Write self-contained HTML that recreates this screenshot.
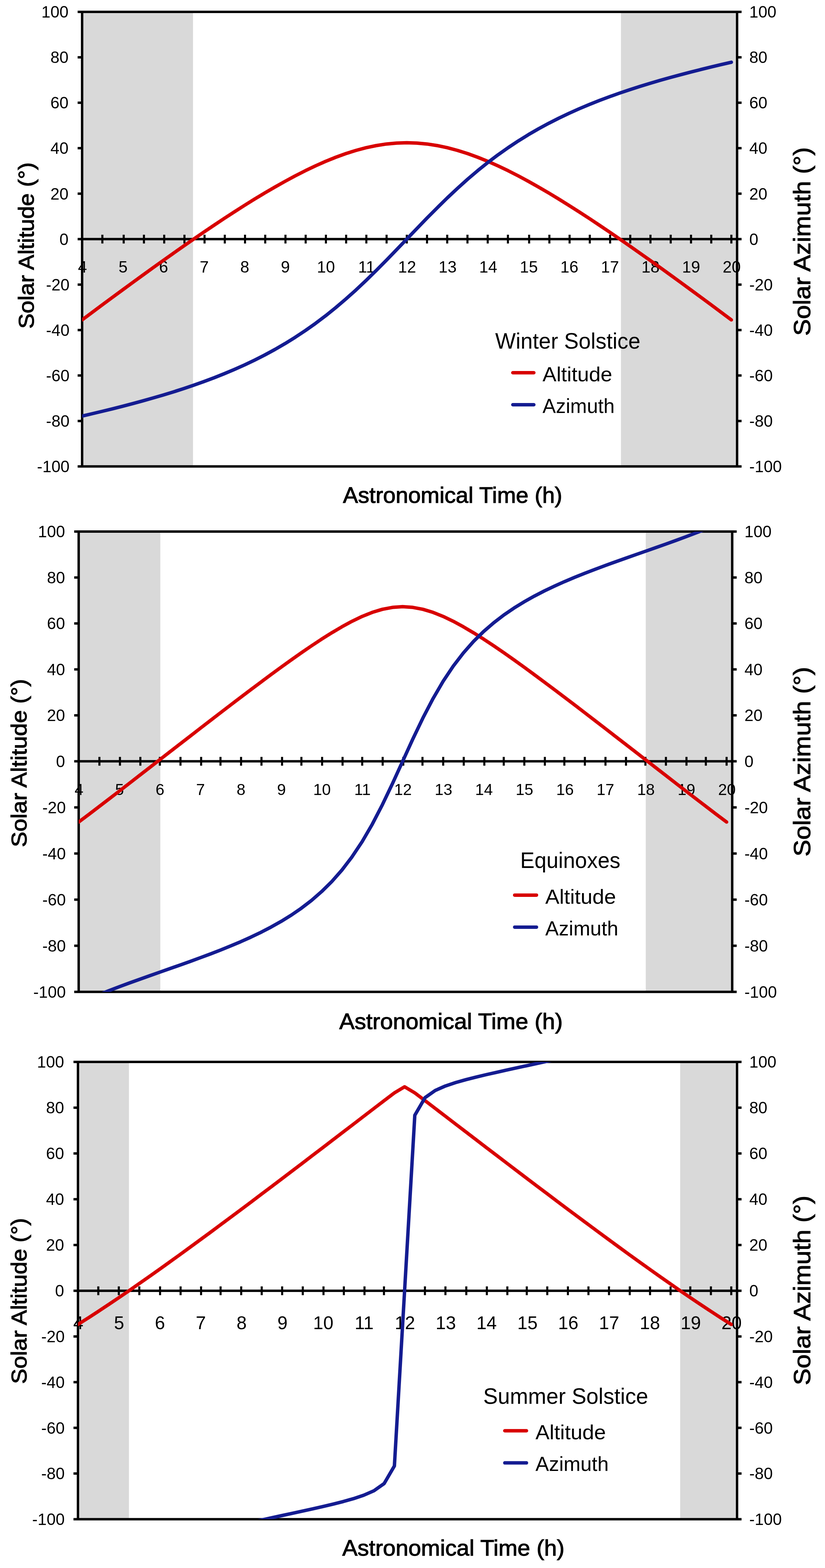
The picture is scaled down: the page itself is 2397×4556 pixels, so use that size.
<!DOCTYPE html><html><head><meta charset="utf-8"><title>Solar Altitude and Azimuth</title><style>html,body{margin:0;padding:0;background:#fff;}svg{display:block;}</style></head><body>
<svg width="2397" height="4556" viewBox="0 0 2397 4556" font-family="'Liberation Sans', Arial, Helvetica, sans-serif">
<rect width="2397" height="4556" fill="#fff"/>
<g><rect x="238.6" y="34.4" width="322.2" height="1320.9" fill="#d9d9d9"/>
<rect x="1804.2" y="34.4" width="337.4" height="1320.9" fill="#d9d9d9"/>
<path d="M225.6 34.4H2154.6M225.6 1355.3H2154.6M238.6 30.9V1358.8M2141.6 30.9V1358.8M225.6 694.8H2154.6M225.6 1223.2H238.6M2141.6 1223.2H2154.6M225.6 1091.1H238.6M2141.6 1091.1H2154.6M225.6 959.0H238.6M2141.6 959.0H2154.6M225.6 826.9H238.6M2141.6 826.9H2154.6M225.6 562.7H238.6M2141.6 562.7H2154.6M225.6 430.6H238.6M2141.6 430.6H2154.6M225.6 298.6H238.6M2141.6 298.6H2154.6M225.6 166.5H238.6M2141.6 166.5H2154.6" stroke="#000" stroke-width="7.0" fill="none"/>
<path d="M297.4 682.0V707.6M359.4 682.0V707.6M418.2 682.0V707.6M477.1 682.0V707.6M535.9 682.0V707.6M594.3 682.0V707.6M653.1 682.0V707.6M711.9 682.0V707.6M770.6 682.0V707.6M829.4 682.0V707.6M888.1 682.0V707.6M946.9 682.0V707.6M1005.7 682.0V707.6M1064.4 682.0V707.6M1123.2 682.0V707.6M1181.9 682.0V707.6M1240.7 682.0V707.6M1299.4 682.0V707.6M1358.2 682.0V707.6M1417.0 682.0V707.6M1475.7 682.0V707.6M1537.4 682.0V707.6M1596.2 682.0V707.6M1654.9 682.0V707.6M1713.6 682.0V707.6M1772.7 682.0V707.6M1831.2 682.0V707.6M1889.9 682.0V707.6M1948.7 682.0V707.6M2007.7 682.0V707.6M2066.5 682.0V707.6M2124.9 682.0V707.6" stroke="#000" stroke-width="6" fill="none"/>
<g font-size="47.2"><text x="202.0" y="1372.1" text-anchor="end">-100</text><text x="2177.1" y="1372.1">-100</text><text x="202.0" y="1240.0" text-anchor="end">-80</text><text x="2177.1" y="1240.0">-80</text><text x="202.0" y="1107.9" text-anchor="end">-60</text><text x="2177.1" y="1107.9">-60</text><text x="202.0" y="975.8" text-anchor="end">-40</text><text x="2177.1" y="975.8">-40</text><text x="202.0" y="843.7" text-anchor="end">-20</text><text x="2177.1" y="843.7">-20</text><text x="199.1" y="711.6" text-anchor="end">0</text><text x="2177.1" y="711.6">0</text><text x="199.1" y="579.5" text-anchor="end">20</text><text x="2177.1" y="579.5">20</text><text x="199.1" y="447.4" text-anchor="end">40</text><text x="2177.1" y="447.4">40</text><text x="199.1" y="315.3" text-anchor="end">60</text><text x="2177.1" y="315.3">60</text><text x="199.1" y="183.2" text-anchor="end">80</text><text x="2177.1" y="183.2">80</text><text x="199.1" y="51.2" text-anchor="end">100</text><text x="2177.1" y="51.2">100</text></g>
<g font-size="47.2"><text x="239.6" y="792.0" text-anchor="middle">4</text><text x="357.5" y="792.0" text-anchor="middle">5</text><text x="475.4" y="792.0" text-anchor="middle">6</text><text x="593.3" y="792.0" text-anchor="middle">7</text><text x="711.2" y="792.0" text-anchor="middle">8</text><text x="829.1" y="792.0" text-anchor="middle">9</text><text x="947.0" y="792.0" text-anchor="middle">10</text><text x="1064.9" y="792.0" text-anchor="middle">11</text><text x="1182.8" y="792.0" text-anchor="middle">12</text><text x="1300.6" y="792.0" text-anchor="middle">13</text><text x="1418.5" y="792.0" text-anchor="middle">14</text><text x="1536.4" y="792.0" text-anchor="middle">15</text><text x="1654.3" y="792.0" text-anchor="middle">16</text><text x="1772.2" y="792.0" text-anchor="middle">17</text><text x="1890.1" y="792.0" text-anchor="middle">18</text><text x="2008.0" y="792.0" text-anchor="middle">19</text><text x="2125.9" y="792.0" text-anchor="middle">20</text></g>
<clipPath id="clip0"><rect x="238.6" y="34.4" width="1903.0" height="1320.9"/></clipPath>
<g clip-path="url(#clip0)" fill="none" stroke-width="10" stroke-linejoin="round" stroke-linecap="round"><polyline points="238.6,929.6 268.1,907.5 297.5,885.6 327.0,863.8 356.5,842.1 386.0,820.5 415.4,799.1 444.9,777.8 474.4,756.7 503.9,735.8 533.3,715.1 562.8,694.6 592.3,674.4 621.8,654.5 651.2,634.9 680.7,615.7 710.2,596.9 739.6,578.6 769.1,560.8 798.6,543.6 828.1,527.0 857.5,511.1 887.0,496.1 916.5,482.0 946.0,468.9 975.4,457.0 1004.9,446.3 1034.4,437.0 1063.9,429.2 1093.3,423.0 1122.8,418.4 1152.3,415.7 1181.8,414.8 1211.2,415.7 1240.7,418.4 1270.2,423.0 1299.6,429.2 1329.1,437.0 1358.6,446.3 1388.1,457.0 1417.5,468.9 1447.0,482.0 1476.5,496.1 1506.0,511.1 1535.4,527.0 1564.9,543.6 1594.4,560.8 1623.9,578.6 1653.3,596.9 1682.8,615.7 1712.3,634.9 1741.7,654.5 1771.2,674.4 1800.7,694.6 1830.2,715.1 1859.6,735.8 1889.1,756.7 1918.6,777.8 1948.1,799.1 1977.5,820.5 2007.0,842.1 2036.5,863.8 2066.0,885.6 2095.4,907.5 2124.9,929.6" stroke="#d80000"/><polyline points="238.6,1208.9 268.1,1202.0 297.5,1195.0 327.0,1187.8 356.5,1180.3 386.0,1172.6 415.4,1164.6 444.9,1156.3 474.4,1147.7 503.9,1138.7 533.3,1129.2 562.8,1119.3 592.3,1108.8 621.8,1097.7 651.2,1086.0 680.7,1073.6 710.2,1060.5 739.6,1046.4 769.1,1031.5 798.6,1015.5 828.1,998.4 857.5,980.2 887.0,960.7 916.5,939.8 946.0,917.6 975.4,893.9 1004.9,868.8 1034.4,842.4 1063.9,814.6 1093.3,785.7 1122.8,756.0 1152.3,725.5 1181.8,694.8 1211.2,664.1 1240.7,633.6 1270.2,603.9 1299.6,575.0 1329.1,547.3 1358.6,520.8 1388.1,495.7 1417.5,472.1 1447.0,449.8 1476.5,429.0 1506.0,409.4 1535.4,391.2 1564.9,374.1 1594.4,358.2 1623.9,343.2 1653.3,329.2 1682.8,316.0 1712.3,303.6 1741.7,291.9 1771.2,280.9 1800.7,270.4 1830.2,260.5 1859.6,251.0 1889.1,242.0 1918.6,233.3 1948.1,225.0 1977.5,217.1 2007.0,209.4 2036.5,201.9 2066.0,194.7 2095.4,187.7 2124.9,180.8" stroke="#141c91"/></g>
<text x="1438.7" y="1013.0" font-size="64" textLength="421.9" lengthAdjust="spacingAndGlyphs">Winter Solstice</text>
<path d="M1490.0 1083.0H1551.0" stroke="#d80000" stroke-width="10" stroke-linecap="round"/>
<path d="M1490.0 1176.0H1551.0" stroke="#141c91" stroke-width="10" stroke-linecap="round"/>
<text x="1576.3" y="1108.1" font-size="59.4" textLength="202.6" lengthAdjust="spacingAndGlyphs">Altitude</text>
<text x="1576.3" y="1200.2" font-size="59.4" textLength="209.5" lengthAdjust="spacingAndGlyphs">Azimuth</text>
<text x="996.6" y="1461.0" font-size="64.5" stroke="#000" stroke-width="1.5" textLength="637.1" lengthAdjust="spacingAndGlyphs">Astronomical Time (h)</text>
<text transform="translate(98.3 955.2) rotate(-90)" x="0" y="0" font-size="62.2" stroke="#000" stroke-width="1.5" textLength="483.4" lengthAdjust="spacingAndGlyphs">Solar Altitude (°)</text>
<text transform="translate(2354.2 975.7) rotate(-90)" x="0" y="0" font-size="69" stroke="#000" stroke-width="1.5" textLength="547.9" lengthAdjust="spacingAndGlyphs">Solar Azimuth (°)</text></g>
<g><rect x="228.6" y="1544.6" width="237.2" height="1337.5" fill="#d9d9d9"/>
<rect x="1876.2" y="1544.6" width="251.2" height="1337.5" fill="#d9d9d9"/>
<path d="M215.6 1544.6H2140.4M215.6 2882.1H2140.4M228.6 1541.1V2885.6M2127.4 1541.1V2885.6M215.6 2212.0H2140.4M215.6 2748.1H228.6M2127.4 2748.1H2140.4M215.6 2614.1H228.6M2127.4 2614.1H2140.4M215.6 2480.0H228.6M2127.4 2480.0H2140.4M215.6 2346.0H228.6M2127.4 2346.0H2140.4M215.6 2078.5H228.6M2127.4 2078.5H2140.4M215.6 1945.0H228.6M2127.4 1945.0H2140.4M215.6 1811.6H228.6M2127.4 1811.6H2140.4M215.6 1678.1H228.6M2127.4 1678.1H2140.4" stroke="#000" stroke-width="7.0" fill="none"/>
<path d="M288.8 2199.2V2224.8M348.5 2199.2V2224.8M407.8 2199.2V2224.8M464.5 2199.2V2224.8M524.4 2199.2V2224.8M584.4 2199.2V2224.8M640.6 2199.2V2224.8M700.4 2199.2V2224.8M759.7 2199.2V2224.8M819.5 2199.2V2224.8M875.7 2199.2V2224.8M935.9 2199.2V2224.8M995.3 2199.2V2224.8M1052.4 2199.2V2224.8M1111.8 2199.2V2224.8M1171.7 2199.2V2224.8M1227.5 2199.2V2224.8M1287.7 2199.2V2224.8M1347.4 2199.2V2224.8M1407.2 2199.2V2224.8M1463.6 2199.2V2224.8M1523.4 2199.2V2224.8M1583.0 2199.2V2224.8M1639.7 2199.2V2224.8M1699.3 2199.2V2224.8M1759.2 2199.2V2224.8M1818.8 2199.2V2224.8M1875.2 2199.2V2224.8M1934.8 2199.2V2224.8M1994.5 2199.2V2224.8M2050.8 2199.2V2224.8M2111.1 2199.2V2224.8" stroke="#000" stroke-width="6" fill="none"/>
<g font-size="47.2"><text x="191.2" y="2898.9" text-anchor="end">-100</text><text x="2162.9" y="2898.9">-100</text><text x="191.2" y="2764.8" text-anchor="end">-80</text><text x="2162.9" y="2764.8">-80</text><text x="191.2" y="2630.8" text-anchor="end">-60</text><text x="2162.9" y="2630.8">-60</text><text x="191.2" y="2496.8" text-anchor="end">-40</text><text x="2162.9" y="2496.8">-40</text><text x="191.2" y="2362.8" text-anchor="end">-20</text><text x="2162.9" y="2362.8">-20</text><text x="189.1" y="2228.8" text-anchor="end">0</text><text x="2162.9" y="2228.8">0</text><text x="189.1" y="2095.3" text-anchor="end">20</text><text x="2162.9" y="2095.3">20</text><text x="189.1" y="1961.8" text-anchor="end">40</text><text x="2162.9" y="1961.8">40</text><text x="189.1" y="1828.3" text-anchor="end">60</text><text x="2162.9" y="1828.3">60</text><text x="189.1" y="1694.8" text-anchor="end">80</text><text x="2162.9" y="1694.8">80</text><text x="189.1" y="1561.4" text-anchor="end">100</text><text x="2162.9" y="1561.4">100</text></g>
<g font-size="46.0"><text x="229.6" y="2309.6" text-anchor="middle">4</text><text x="347.3" y="2309.6" text-anchor="middle">5</text><text x="464.9" y="2309.6" text-anchor="middle">6</text><text x="582.6" y="2309.6" text-anchor="middle">7</text><text x="700.2" y="2309.6" text-anchor="middle">8</text><text x="817.9" y="2309.6" text-anchor="middle">9</text><text x="935.5" y="2309.6" text-anchor="middle">10</text><text x="1053.2" y="2309.6" text-anchor="middle">11</text><text x="1170.8" y="2309.6" text-anchor="middle">12</text><text x="1288.5" y="2309.6" text-anchor="middle">13</text><text x="1406.2" y="2309.6" text-anchor="middle">14</text><text x="1523.8" y="2309.6" text-anchor="middle">15</text><text x="1641.5" y="2309.6" text-anchor="middle">16</text><text x="1759.1" y="2309.6" text-anchor="middle">17</text><text x="1876.8" y="2309.6" text-anchor="middle">18</text><text x="1994.4" y="2309.6" text-anchor="middle">19</text><text x="2112.1" y="2309.6" text-anchor="middle">20</text></g>
<clipPath id="clip1"><rect x="228.6" y="1544.6" width="1898.8" height="1337.5"/></clipPath>
<g clip-path="url(#clip1)" fill="none" stroke-width="10" stroke-linejoin="round" stroke-linecap="round"><polyline points="228.6,2388.6 258.0,2366.4 287.4,2344.0 316.8,2321.5 346.3,2298.9 375.7,2276.1 405.1,2253.3 434.5,2230.5 463.9,2207.6 493.3,2184.8 522.7,2162.0 552.2,2139.2 581.6,2116.4 611.0,2093.7 640.4,2071.1 669.8,2048.6 699.2,2026.2 728.6,2003.9 758.1,1981.9 787.5,1960.1 816.9,1938.5 846.3,1917.4 875.7,1896.7 905.1,1876.5 934.5,1857.1 964.0,1838.6 993.4,1821.2 1022.8,1805.2 1052.2,1791.1 1081.6,1779.3 1111.0,1770.4 1140.4,1764.8 1169.8,1762.8 1199.3,1764.8 1228.7,1770.4 1258.1,1779.3 1287.5,1791.1 1316.9,1805.2 1346.3,1821.2 1375.7,1838.6 1405.2,1857.1 1434.6,1876.5 1464.0,1896.7 1493.4,1917.4 1522.8,1938.5 1552.2,1960.1 1581.6,1981.9 1611.1,2003.9 1640.5,2026.2 1669.9,2048.6 1699.3,2071.1 1728.7,2093.7 1758.1,2116.4 1787.5,2139.2 1817.0,2162.0 1846.4,2184.8 1875.8,2207.6 1905.2,2230.5 1934.6,2253.3 1964.0,2276.1 1993.4,2298.9 2022.9,2321.5 2052.3,2344.0 2081.7,2366.4 2111.1,2388.6" stroke="#d80000"/><polyline points="228.6,2915.3 258.0,2902.4 287.4,2890.1 316.8,2878.5 346.3,2867.2 375.7,2856.3 405.1,2845.7 434.5,2835.2 463.9,2824.9 493.3,2814.5 522.7,2804.2 552.2,2793.7 581.6,2782.9 611.0,2772.0 640.4,2760.6 669.8,2748.7 699.2,2736.3 728.6,2723.1 758.1,2709.0 787.5,2693.7 816.9,2677.2 846.3,2659.0 875.7,2638.8 905.1,2616.2 934.5,2590.6 964.0,2561.5 993.4,2528.1 1022.8,2489.6 1052.2,2445.4 1081.6,2394.9 1111.0,2338.2 1140.4,2276.6 1199.3,2147.7 1228.7,2086.3 1258.1,2029.9 1287.5,1979.6 1316.9,1935.5 1346.3,1897.2 1375.7,1863.9 1405.2,1834.9 1434.6,1809.5 1464.0,1786.9 1493.4,1766.8 1522.8,1748.7 1552.2,1732.2 1581.6,1717.0 1611.1,1703.0 1640.5,1689.8 1669.9,1677.4 1699.3,1665.6 1728.7,1654.3 1758.1,1643.4 1787.5,1632.7 1817.0,1622.2 1846.4,1611.9 1875.8,1601.6 1905.2,1591.3 1934.6,1580.9 1964.0,1570.3 1993.4,1559.4 2022.9,1548.2 2052.3,1536.6 2081.7,1524.4 2111.1,1511.6" stroke="#141c91"/></g>
<text x="1511.5" y="2522.1" font-size="64" textLength="291.0" lengthAdjust="spacingAndGlyphs">Equinoxes</text>
<path d="M1495.4 2600.9H1558.7" stroke="#d80000" stroke-width="10" stroke-linecap="round"/>
<path d="M1495.4 2693.9H1558.7" stroke="#141c91" stroke-width="10" stroke-linecap="round"/>
<text x="1584.3" y="2626.0" font-size="59.4" textLength="205.4" lengthAdjust="spacingAndGlyphs">Altitude</text>
<text x="1584.3" y="2717.5" font-size="59.4" textLength="212.2" lengthAdjust="spacingAndGlyphs">Azimuth</text>
<text x="985.8" y="2990.4" font-size="64.5" stroke="#000" stroke-width="1.5" textLength="649.1" lengthAdjust="spacingAndGlyphs">Astronomical Time (h)</text>
<text transform="translate(76.9 2461.4) rotate(-90)" x="0" y="0" font-size="62.2" stroke="#000" stroke-width="1.5" textLength="488.6" lengthAdjust="spacingAndGlyphs">Solar Altitude (°)</text>
<text transform="translate(2354.0 2488.8) rotate(-90)" x="0" y="0" font-size="69" stroke="#000" stroke-width="1.5" textLength="550.9" lengthAdjust="spacingAndGlyphs">Solar Azimuth (°)</text></g>
<g><rect x="226.5" y="3085.5" width="148.2" height="1328.8" fill="#d9d9d9"/>
<rect x="1976.2" y="3085.5" width="165.3" height="1328.8" fill="#d9d9d9"/>
<path d="M213.5 3085.5H2154.5M213.5 4414.3H2154.5M226.5 3082.0V4417.8M2141.5 3082.0V4417.8M213.5 3750.5H2154.5M213.5 4281.5H226.5M2141.5 4281.5H2154.5M213.5 4148.8H226.5M2141.5 4148.8H2154.5M213.5 4016.0H226.5M2141.5 4016.0H2154.5M213.5 3883.3H226.5M2141.5 3883.3H2154.5M213.5 3617.5H226.5M2141.5 3617.5H2154.5M213.5 3484.5H226.5M2141.5 3484.5H2154.5M213.5 3351.5H226.5M2141.5 3351.5H2154.5M213.5 3218.5H226.5M2141.5 3218.5H2154.5" stroke="#000" stroke-width="7.0" fill="none"/>
<path d="M285.6 3737.7V3763.3M345.2 3737.7V3763.3M404.8 3737.7V3763.3M465.1 3737.7V3763.3M524.7 3737.7V3763.3M584.2 3737.7V3763.3M640.9 3737.7V3763.3M700.8 3737.7V3763.3M760.4 3737.7V3763.3M819.8 3737.7V3763.3M879.7 3737.7V3763.3M939.9 3737.7V3763.3M999.0 3737.7V3763.3M1059.0 3737.7V3763.3M1115.6 3737.7V3763.3M1175.5 3737.7V3763.3M1234.6 3737.7V3763.3M1294.2 3737.7V3763.3M1354.8 3737.7V3763.3M1414.5 3737.7V3763.3M1474.1 3737.7V3763.3M1530.5 3737.7V3763.3M1590.1 3737.7V3763.3M1650.0 3737.7V3763.3M1709.7 3737.7V3763.3M1769.4 3737.7V3763.3M1829.7 3737.7V3763.3M1888.7 3737.7V3763.3M1948.3 3737.7V3763.3M2005.6 3737.7V3763.3M2065.5 3737.7V3763.3M2124.6 3737.7V3763.3" stroke="#000" stroke-width="6" fill="none"/>
<g font-size="47.2"><text x="187.9" y="4431.1" text-anchor="end">-100</text><text x="2177.0" y="4431.1">-100</text><text x="187.9" y="4298.3" text-anchor="end">-80</text><text x="2177.0" y="4298.3">-80</text><text x="187.9" y="4165.5" text-anchor="end">-60</text><text x="2177.0" y="4165.5">-60</text><text x="187.9" y="4032.8" text-anchor="end">-40</text><text x="2177.0" y="4032.8">-40</text><text x="187.9" y="3900.0" text-anchor="end">-20</text><text x="2177.0" y="3900.0">-20</text><text x="186.3" y="3767.3" text-anchor="end">0</text><text x="2177.0" y="3767.3">0</text><text x="186.3" y="3634.3" text-anchor="end">20</text><text x="2177.0" y="3634.3">20</text><text x="186.3" y="3501.3" text-anchor="end">40</text><text x="2177.0" y="3501.3">40</text><text x="186.3" y="3368.3" text-anchor="end">60</text><text x="2177.0" y="3368.3">60</text><text x="186.3" y="3235.3" text-anchor="end">80</text><text x="2177.0" y="3235.3">80</text><text x="186.3" y="3102.3" text-anchor="end">100</text><text x="2177.0" y="3102.3">100</text></g>
<g font-size="53.0"><text x="227.5" y="3861.8" text-anchor="middle">4</text><text x="346.1" y="3861.8" text-anchor="middle">5</text><text x="464.8" y="3861.8" text-anchor="middle">6</text><text x="583.4" y="3861.8" text-anchor="middle">7</text><text x="702.0" y="3861.8" text-anchor="middle">8</text><text x="820.7" y="3861.8" text-anchor="middle">9</text><text x="939.3" y="3861.8" text-anchor="middle">10</text><text x="1057.9" y="3861.8" text-anchor="middle">11</text><text x="1176.5" y="3861.8" text-anchor="middle">12</text><text x="1295.2" y="3861.8" text-anchor="middle">13</text><text x="1413.8" y="3861.8" text-anchor="middle">14</text><text x="1532.4" y="3861.8" text-anchor="middle">15</text><text x="1651.1" y="3861.8" text-anchor="middle">16</text><text x="1769.7" y="3861.8" text-anchor="middle">17</text><text x="1888.3" y="3861.8" text-anchor="middle">18</text><text x="2007.0" y="3861.8" text-anchor="middle">19</text><text x="2125.6" y="3861.8" text-anchor="middle">20</text></g>
<clipPath id="clip2"><rect x="226.5" y="3085.5" width="1915.0" height="1328.8"/></clipPath>
<g clip-path="url(#clip2)" fill="none" stroke-width="10" stroke-linejoin="round" stroke-linecap="round"><polyline points="226.5,3848.3 256.2,3829.5 285.8,3810.2 315.5,3790.5 345.1,3770.6 374.8,3750.3 404.4,3729.7 434.1,3708.9 463.8,3687.8 493.4,3666.6 523.1,3645.2 552.7,3623.6 582.4,3601.9 612.1,3580.1 641.7,3558.1 671.4,3536.1 701.0,3513.9 730.7,3491.7 760.3,3469.3 790.0,3447.0 819.7,3424.5 849.3,3402.0 879.0,3379.4 908.6,3356.8 938.3,3334.2 967.9,3311.5 997.6,3288.8 1027.3,3266.1 1056.9,3243.4 1086.6,3220.6 1116.2,3198.0 1145.9,3175.5 1175.5,3157.7 1205.2,3175.5 1234.9,3198.0 1264.5,3220.6 1294.2,3243.4 1323.8,3266.1 1353.5,3288.8 1383.2,3311.5 1412.8,3334.2 1442.5,3356.8 1472.1,3379.4 1501.8,3402.0 1531.4,3424.5 1561.1,3447.0 1590.8,3469.3 1620.4,3491.7 1650.1,3513.9 1679.7,3536.1 1709.4,3558.1 1739.0,3580.1 1768.7,3601.9 1798.4,3623.6 1828.0,3645.2 1857.7,3666.6 1887.3,3687.8 1917.0,3708.9 1946.7,3729.7 1976.3,3750.3 2006.0,3770.6 2035.6,3790.5 2065.3,3810.2 2094.9,3829.5 2124.6,3848.3" stroke="#d80000"/><polyline points="226.5,4578.6 256.2,4565.4 285.8,4552.9 315.5,4541.2 345.1,4530.1 374.8,4519.6 404.4,4509.6 434.1,4500.1 463.8,4491.0 493.4,4482.4 523.1,4474.1 552.7,4466.1 582.4,4458.4 612.1,4450.9 641.7,4443.7 671.4,4436.7 701.0,4429.8 730.7,4423.1 760.3,4416.5 790.0,4410.0 819.7,4403.5 849.3,4397.1 879.0,4390.6 908.6,4384.1 938.3,4377.4 967.9,4370.3 997.6,4362.8 1027.3,4354.4 1056.9,4344.5 1086.6,4331.5 1116.2,4310.6 1145.9,4259.5 1205.2,3240.5 1234.9,3189.4 1264.5,3168.5 1294.2,3155.4 1323.8,3145.5 1353.5,3137.1 1383.2,3129.6 1412.8,3122.5 1442.5,3115.8 1472.1,3109.2 1501.8,3102.7 1531.4,3096.3 1561.1,3089.8 1590.8,3083.3 1620.4,3076.7 1650.1,3070.0 1679.7,3063.1 1709.4,3056.1 1739.0,3048.8 1768.7,3041.4 1798.4,3033.6 1828.0,3025.6 1857.7,3017.3 1887.3,3008.6 1917.0,2999.5 1946.7,2990.0 1976.3,2980.0 2006.0,2969.5 2035.6,2958.4 2065.3,2946.6 2094.9,2934.1 2124.6,2920.9" stroke="#141c91"/></g>
<text x="1403.9" y="4078.7" font-size="64" textLength="479.5" lengthAdjust="spacingAndGlyphs">Summer Solstice</text>
<path d="M1466.7 4157.3H1529.6" stroke="#d80000" stroke-width="10" stroke-linecap="round"/>
<path d="M1466.7 4250.6H1529.6" stroke="#141c91" stroke-width="10" stroke-linecap="round"/>
<text x="1555.7" y="4181.5" font-size="59.4" textLength="204.7" lengthAdjust="spacingAndGlyphs">Altitude</text>
<text x="1555.7" y="4274.4" font-size="59.4" textLength="212.7" lengthAdjust="spacingAndGlyphs">Azimuth</text>
<text x="994.6" y="4519.7" font-size="64.5" stroke="#000" stroke-width="1.5" textLength="645.5" lengthAdjust="spacingAndGlyphs">Astronomical Time (h)</text>
<text transform="translate(77.3 4021.2) rotate(-90)" x="0" y="0" font-size="62.2" stroke="#000" stroke-width="1.5" textLength="482.2" lengthAdjust="spacingAndGlyphs">Solar Altitude (°)</text>
<text transform="translate(2354.0 4024.9) rotate(-90)" x="0" y="0" font-size="69" stroke="#000" stroke-width="1.5" textLength="550.8" lengthAdjust="spacingAndGlyphs">Solar Azimuth (°)</text></g>
</svg></body></html>
